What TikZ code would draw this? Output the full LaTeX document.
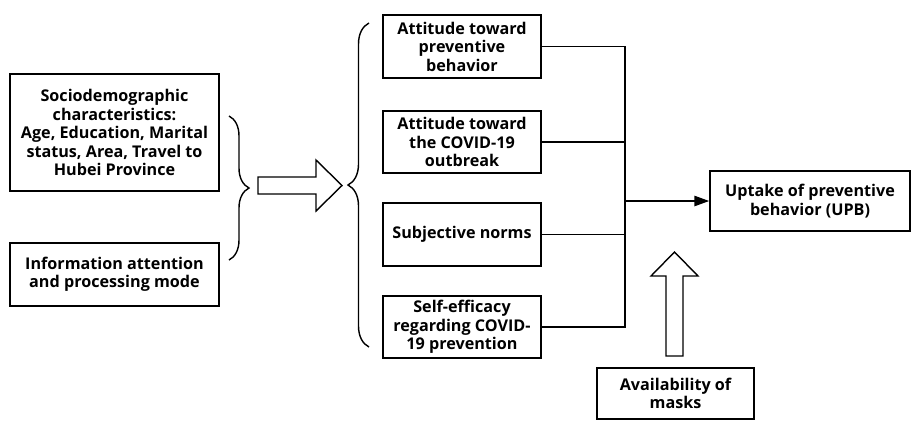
\documentclass[tikz,border=0pt]{standalone}
\usepackage{fontspec}
\setmainfont{Open Sans}
\usepackage{tikz}
\usetikzlibrary{arrows.meta,positioning,calc,decorations.pathreplacing}

\begin{document}
\begin{tikzpicture}[
    x=0.02cm, y=-0.02cm,
    box/.style={draw, line width=0.8pt, align=center, inner sep=0pt,
                font=\fontsize{9.2}{10.5}\selectfont\bfseries},
    conn/.style={line width=0.7pt},
    arr/.style={line width=1.1pt, -{Triangle[length=8.5pt, width=5.8pt]}},
    bigarr/.style={draw, line width=0.8pt, fill=white, line join=miter},
    brc/.style={draw, line width=0.8pt, decorate}
]
\useasboundingbox (0,0) rectangle (915,424);

% --- Left inputs ---
\node[box, minimum width=209*0.02cm, minimum height=117*0.02cm] (socio) at (114.5,132.5)
    {Sociodemographic\\characteristics:\\Age, Education, Marital\\status, Area, Travel to\\Hubei Province};
\node[box, minimum width=209*0.02cm, minimum height=63*0.02cm] (info) at (114.5,274.5)
    {Information attention\\and processing mode};

% brace and block arrow
\draw[brc, decoration={brace, amplitude=0.4cm}] (229,116) -- (229,260);
\coordinate (rarr) at (258,177);
\draw[bigarr] (rarr) -- ++(58,0) -- ++(0,-17) -- (342,185.5) -- (316,211) -- ++(0,-17) -- (258,194) -- cycle;
\draw[brc, decoration={brace, amplitude=0.42cm}] (369,347) -- (369,23);

% --- Middle factors ---
\node[box, minimum width=158*0.02cm, minimum height=63*0.02cm] (att1) at (462,46.5)
    {Attitude toward\\preventive\\behavior};
\node[box, minimum width=158*0.02cm, minimum height=62*0.02cm] (att2) at (462,142)
    {Attitude toward\\the COVID-19\\outbreak};
\node[box, minimum width=158*0.02cm, minimum height=63*0.02cm] (norms) at (462,234.5)
    {Subjective norms};
\node[box, minimum width=158*0.02cm, minimum height=62*0.02cm] (self) at (462,327)
    {Self-efficacy\\regarding COVID-\\19 prevention};

% --- Outcome ---
\node[box, minimum width=200*0.02cm, minimum height=60*0.02cm] (upb) at (810,201)
    {Uptake of preventive\\behavior (UPB)};
\node[box, minimum width=157*0.02cm, minimum height=51*0.02cm] (masks) at (675.5,393.5)
    {Availability of\\masks};

% collecting line
\coordinate (bus) at (625,201);
\draw[conn] (att1.east) -| (bus) |- (self.east);
\draw[conn] (att2.east) -- (att2.east -| bus);
\draw[conn] (norms.east) -- (norms.east -| bus);
\draw[arr] (bus) -- (upb.west);

% masks push up
\coordinate (uarr) at (666,356);
\draw[bigarr] (uarr) -- ++(0,-80) -- ++(-15,0) -- (674.5,252) -- (698,276) -- ++(-15,0) -- (683,356) -- cycle;

\end{tikzpicture}
\end{document}
